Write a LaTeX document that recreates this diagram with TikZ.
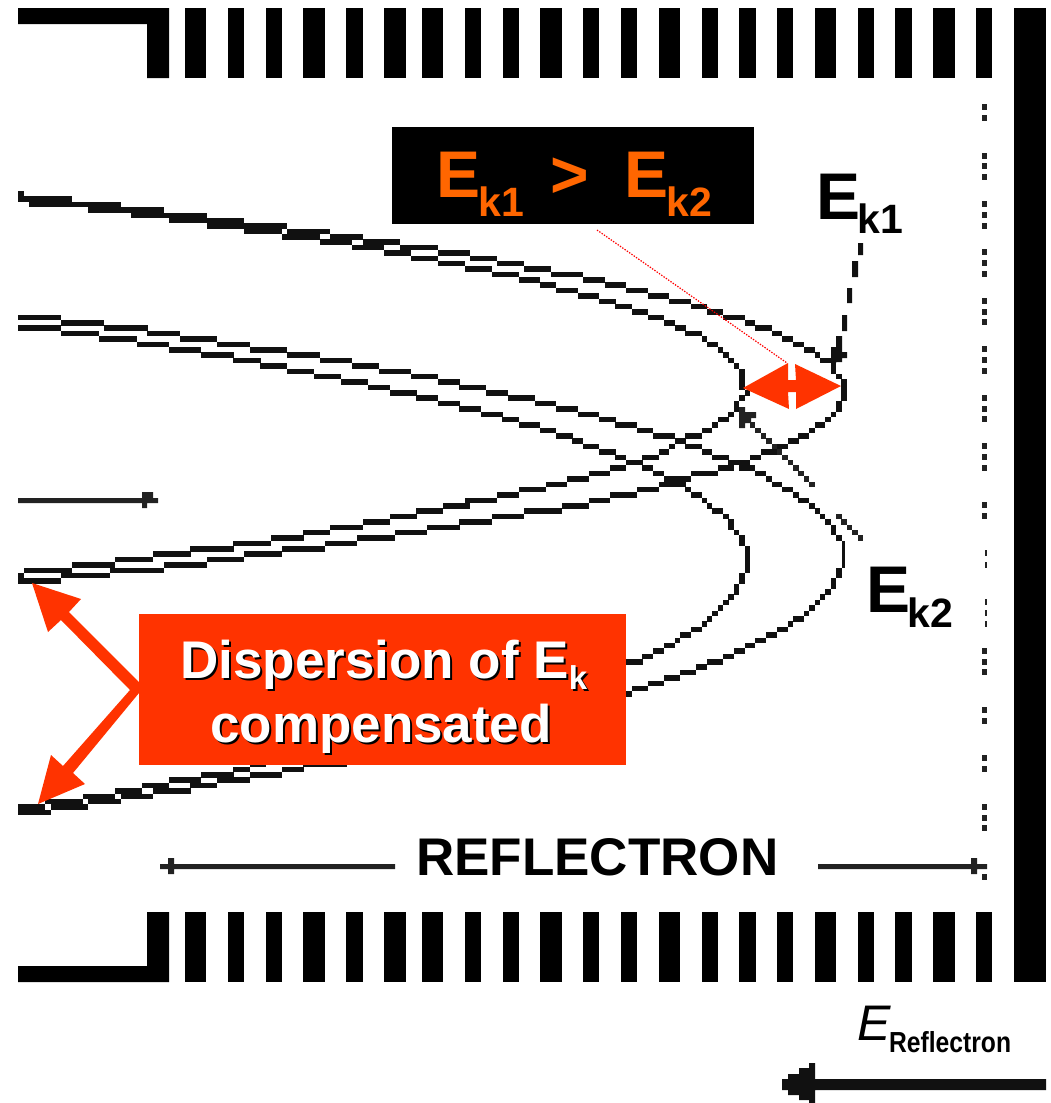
\documentclass[tikz,border=0pt]{standalone}
\usepackage{fontspec}
\setmainfont{Liberation Sans}
\definecolor{linecol}{HTML}{111111}
\definecolor{arrowcol}{HTML}{222222}
\definecolor{flame}{HTML}{FF3300}
\definecolor{amber}{HTML}{FF6600}
\def\gridg{5.38}
\newcommand\pixcell[3]{\fill[#1] ({(#2+0.4)*\gridg},{(#3+0.5)*\gridg}) rectangle ++(\gridg+0.12,\gridg+0.12);}
% one straight piece, rasterised column by column (or row by row) on the coarse grid of the picture
\newcommand\pixseg[5]{%
  \pgfmathsetmacro\ddx{#4-#2}\pgfmathsetmacro\ddy{#5-#3}%
  \pgfmathtruncatemacro\horiz{abs(\ddx)>=abs(\ddy)?1:0}%
  \ifnum\horiz=1
    \pgfmathtruncatemacro\na{floor(#2/\gridg-0.4)}%
    \pgfmathtruncatemacro\nb{floor(#4/\gridg-0.4)}%
    \foreach \k in {\na,...,\nb}{%
      \pgfmathsetmacro\qt{\ddx==0?0:min(1,max(0,((\k+0.9)*\gridg-#2)/\ddx))}%
      \pgfmathtruncatemacro\rw{floor((#3+\ddy*\qt)/\gridg-0.5)}%
      \pixcell{#1}{\k}{\rw}
    }%
  \else
    \pgfmathtruncatemacro\na{floor(#3/\gridg-0.5)}%
    \pgfmathtruncatemacro\nb{floor(#5/\gridg-0.5)}%
    \foreach \k in {\na,...,\nb}{%
      \pgfmathsetmacro\qt{min(1,max(0,((\k+1)*\gridg-#3)/\ddy))}%
      \pgfmathtruncatemacro\rw{floor((#2+\ddx*\qt)/\gridg-0.4)}%
      \pixcell{#1}{\rw}{\k}
    }%
  \fi
}
\newcommand\pixline[2][linecol]{%
  \foreach \xb/\yb [count=\ci, remember=\xb as \xa (initially 0), remember=\yb as \ya (initially 0)] in {#2}{%
    \ifnum\ci>1 \pixseg{#1}{\xa}{\ya}{\xb}{\yb}\fi
  }%
}
\newcommand\bigsz[1]{\fontsize{#1}{#1}\selectfont}
\tikzset{
  x=1pt,y=-1pt,
  txt/.style={inner sep=0pt,anchor=base west,font=\bfseries},
  rule/.style={fill=arrowcol,draw=none},
}
\begin{document}
\begin{tikzpicture}
\useasboundingbox (0,0) rectangle (1051,1103);
% electrodes
\fill[black] (18,8)--(169,8)--(169,78)--(147,78)--(147,24)--(18,24)--cycle;
\fill[black] (18,982)--(169,982)--(169,912)--(147,912)--(147,966)--(18,966)--cycle;
\foreach \a/\b in {185/206,228/244,266/282,303/325,346/363,384/406,422/443,465/481,503/519,540/562,583/599,621/637,659/680,702/718,739/756,777/793,815/836,858/874,895/912,933/955,976/992}{
  \fill[black] (\a,8) rectangle (\b,78);
  \fill[black] (\a,912) rectangle (\b,982);
}
\fill[black] (1014,8) rectangle (1046,982);
% grid dots
\foreach \y in {107,118,156,166,177,204,215,226,252,263,274,301,312,322,349,360,371,398,409,419,446,457,468,505,516,651,662,672,710,721,758,769,807,818,828,877}{
  \fill[arrowcol] (982,\y-2.6) rectangle (987,\y+2.6);
}
\foreach \y in {553,565,602,613,624}{
  \fill[arrowcol] (985,\y-2.6) rectangle (987,\y+2.6);
}
% trajectories
\pixline{20/193,20/198,45/199,95/204,139/209,184/215,225/220,265/226,306/231,344/236,381/242,416/247,449/252,481/258,510/263,537/269,564/274,592/279,615/285,637/290,658/296,680/301,699/307,715/312,734/317,750/323,764/328,777/333,787/339,798/344,809/350,817/355,826/361,835/366,835/372,839/376,844/381,844/399,839/403,839/411,834/414,828/420,820/425,812/430,804/435,793/441,781/446,769/452,756/457,739/463,729/468,707/473,680/479,672/484,648/489,623/495,597/500,581/505,450/526,345/543,311/548,271/553,228/559,185/565,139/570,94/575,42/580,20/580}
\pixline{20/577,30/570,53/570,98/564,139/559,177/553,217/548,255/543,287/538,320/532,348/527,470/503,580/479,600/473,618/468,634/463,650/457,664/452,680/441,697/435,707/430,715/425,723/419,732/414,737/407,742/398,747/393,742/385,742/370,737/365,731/360,726/355,720/350,712/344,704/339,694/333,680/328,670/323,656/317,640/312,624/307,607/301,590/296,567/290,548/285,526/279,502/274,478/269,451/263,424/258,395/252,365/247,333/242,298/236,263/231,225/226,187/220,147/215,104/209,61/204,20/201}
\pixline{20/317,40/317,82/323,123/328,161/333,198/339,233/344,268/350,303/355,335/360,365/366,392/371,422/376,448/382,472/387,497/393,521/398,545/403,567/409,590/414,607/419,626/425,645/430,661/435,680/441,694/446,707/452,720/457,734/463,747/468,761/473,769/479,777/484,787/489,796/495,804/500,812/505,817/511,823/516,828/522,833/530,839/538}
\fill[linecol] (842,541) rectangle (845,568);
\pixline{839/570,834/583,828/592,823/597,817/603,812/608,806/613,798/619,790/624,782/629,771/635,761/640,750/646,739/651,728/656,715/662,701/667,688/672,672/678,656/683,640/688,629/694,335/764,314/764,298/769,266/775,236/780,206/785,173/791,138/796,103/802,68/807,34/812,20/812}
\pixline{20/325,23/328,42/328,80/333,117/339,152/344,185/350,217/355,246/360,273/366,302/371,327/376,354/382,378/387,402/393,427/398,448/403,470/409,489/414,508/419,530/425,548/430,564/436,577/441,590/446,607/452,621/457,634/463,647/468,658/473,670/479,680/484,688/489,696/495,704/500,709/505,717/511,726/516,731/522,736/532,742/537,742/546,747/548,747/572,742/574,742/583,736/586,736/594,731/597,726/603,720/608,715/613,709/619,704/624,696/629,685/635,677/640,669/646,658/651,647/656,634/662,250/766,246/769,216/775,186/780,157/785,128/791,96/797,61/802,31/807,20/807}
% arrow of E_k2
\pixline[arrowcol]{812/484,750/422}
\pixline[arrowcol]{838/516,860/537}
\fill[arrowcol] (739,407) rectangle (745,428) (745,412) rectangle (751,423) (751,412) rectangle (756,418);
% arrow of E_k1
\fill[linecol] (858,243) rectangle (863,255) (852,261) rectangle (858,277) (847,288) rectangle (852,303) (842,315) rectangle (847,331) (836,336) rectangle (842,362) (831,347) rectangle (836,363) (842,352) rectangle (847,358);
% small arrows
\fill[rule] (18,498) rectangle (158,503) (142,492) rectangle (153,498) (142,503) rectangle (147,508);
\fill[rule] (160,864) rectangle (395,869) (168,858) rectangle (174,874);
\fill[rule] (818,864) rectangle (987,869) (971,858) rectangle (977,874);
% red leader and double arrow
\draw[red,line width=1.2,dash pattern=on 1.4 off 1.4] (597,230)--(787,363);
\fill[flame] (743,388)--(788,363)--(788,380)--(796,380)--(795,364)--(841,386)--(796,409)--(796,392)--(788,392)--(789,409)--cycle;
% orange box with its arrows
\fill[flame] (139,682)--(69,612)--(81,599)--(32,583)--(48,632)--(61,620)--(130,690)--(63,766)--(51,755)--(38,804)--(85,784)--(73,773)--(139,693)--cycle;
\node[fill=flame,minimum width=487,minimum height=151,inner sep=0pt,anchor=north west] (dispbox) at (139,614) {};
\node[txt,black] (d1s) at (182,680) {\bigsz{53}Dispersion of E\raisebox{-11pt}{\bigsz{33}k}};
\node[txt,white] (d1) at (180,678) {\bigsz{53}Dispersion of E\raisebox{-11pt}{\bigsz{33}k}};
\node[txt,black] (d2s) at (212,744) {\bigsz{53}compensated};
\node[txt,white] (d2) at (210,742) {\bigsz{53}compensated};
% black box
\node[fill=black,minimum width=362,minimum height=97,inner sep=0pt,anchor=north west] (ekbox) at (392,127) {};
\node[txt,amber] (ekt) at (436,197) {\bigsz{66}E\hspace{-1.5pt}\raisebox{-19pt}{\bigsz{41}k1}\bigsz{66}\hspace{26pt}>\hspace{36pt}E\hspace{-2pt}\raisebox{-19pt}{\bigsz{41}k2}};
% labels
\node[txt,black] (ek1) at (816,219) {\bigsz{66}E\hspace{-3pt}\raisebox{-14pt}{\bigsz{41}k1}};
\node[txt,black] (ek2) at (866,612) {\bigsz{66}E\hspace{-3pt}\raisebox{-15pt}{\bigsz{41}k2}};
\node[txt,black] (refl) at (416,875) {\bigsz{53}REFLECTRON};
% field label and arrow
\node[inner sep=0pt,anchor=base west,black] (efield) at (857,1040) {\bigsz{50}\itshape E};
\node[txt,black,xscale=0.85] (efsub) at (889,1052) {\bigsz{29}Reflectron};
\fill[linecol] (815,1079) rectangle (1046,1090) (782,1079) rectangle (788,1090) (788,1074) rectangle (799,1095) (799,1068) rectangle (809,1100) (809,1063) rectangle (815,1103);
\end{tikzpicture}
\end{document}
